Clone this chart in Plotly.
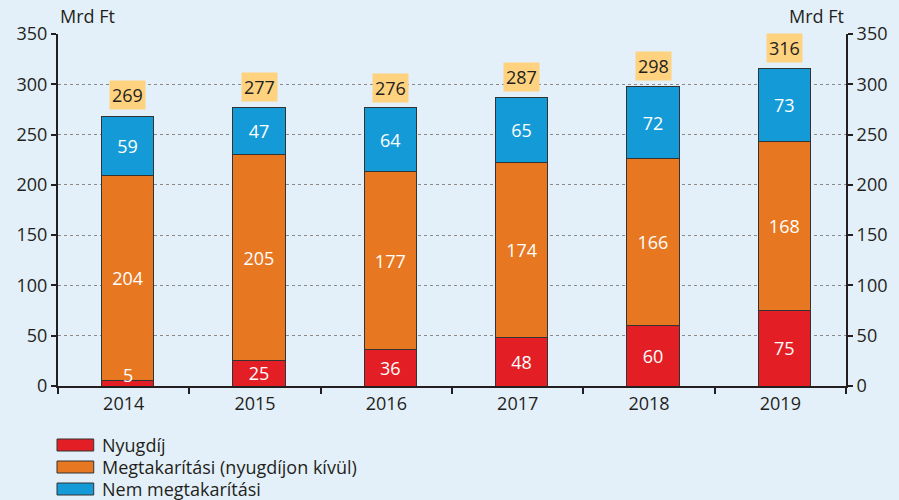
import plotly.graph_objects as go

years = ["2014", "2015", "2016", "2017", "2018", "2019"]
nyugdij = [5, 25, 36, 48, 60, 75]
megtakaritasi = [204, 205, 177, 174, 166, 168]
nem_megtakaritasi = [59, 47, 64, 65, 72, 73]
totals = [269, 277, 276, 287, 298, 316]

series_names = ["Nyugdíj", "Megtakarítási (nyugdíjon kívül)", "Nem megtakarítási"]
colors = ["#e31e24", "#e87722", "#149bd7"]
unit = "Mrd Ft"

BG = "#e3f0f9"
FONT = "Open Sans"
DARK = "#231f20"
SMALL_LIMIT = 15  # segments smaller than this get their label above the bar

fig = go.Figure()
for name, vals, col in zip(series_names, [nyugdij, megtakaritasi, nem_megtakaritasi], colors):
    fig.add_trace(go.Bar(
        x=years, y=vals, name=name,
        marker=dict(color=col, line=dict(color="#333333", width=1)),
        text=[str(v) if v >= SMALL_LIMIT else "" for v in vals],
        textposition="inside", textangle=0,
        insidetextanchor="middle", constraintext="none",
        textfont=dict(color="white", size=18, family=FONT),
        width=0.4, offset=-0.17, showlegend=False,
    ))

# labels for tiny bottom segments
for i, v in enumerate(nyugdij):
    if v < SMALL_LIMIT:
        fig.add_annotation(x=i, y=v, yanchor="bottom", xshift=4, yshift=-8,
                           text=str(v), showarrow=False,
                           font=dict(size=18, color="white", family=FONT))

# invisible trace for right axis
fig.add_trace(go.Scatter(x=years, y=totals, yaxis="y2", mode="markers",
                         marker=dict(opacity=0), showlegend=False, hoverinfo="skip"))

for i, t in enumerate(totals):
    fig.add_annotation(x=i, y=t, xshift=4, yshift=5, yanchor="bottom", text=str(t),
                       showarrow=False, bgcolor="#ffd27f", borderpad=2,
                       font=dict(size=18, color=DARK, family=FONT))

# custom legend
for i, (name, col) in enumerate(zip(series_names, colors)):
    yc = 445 + 22 * i
    fig.add_shape(type="rect", xref="paper", yref="paper",
                  x0=(57 - 58) / 794, x1=(94 - 58) / 794,
                  y0=(386 - (yc - 6)) / 352, y1=(386 - (yc + 6)) / 352,
                  fillcolor=col, line=dict(color="#333333", width=1))
    fig.add_annotation(xref="paper", yref="paper", x=(100 - 58) / 794,
                       y=(386 - yc) / 352, xanchor="left", yanchor="middle",
                       text=name, showarrow=False,
                       font=dict(size=18, color=DARK, family=FONT))

fig.add_annotation(xref="paper", yref="paper", x=0, y=1.012, xanchor="left",
                   yanchor="bottom", text=unit, showarrow=False,
                   font=dict(size=18, color=DARK, family=FONT))
fig.add_annotation(xref="paper", yref="paper", x=1, y=1.012, xanchor="right",
                   yanchor="bottom", text=unit, showarrow=False,
                   font=dict(size=18, color=DARK, family=FONT))

axis_common = dict(range=[0, 350], tickvals=[0, 50, 100, 150, 200, 250, 300, 350],
                   showline=True, linecolor=DARK, linewidth=2, ticks="outside",
                   ticklen=5, tickwidth=2, tickcolor=DARK,
                   tickfont=dict(size=18, color=DARK, family=FONT), zeroline=False)

fig.update_layout(
    width=899, height=500,
    paper_bgcolor=BG, plot_bgcolor=BG,
    margin=dict(l=58, r=47, t=34, b=114),
    barmode="stack",
    showlegend=False,
    yaxis=dict(**axis_common, showgrid=True, gridcolor="#8a8a8a", griddash="dot", gridwidth=1),
    yaxis2=dict(**axis_common, overlaying="y", side="right", showgrid=False),
    xaxis=dict(type="category", range=[-0.5, 5.5], showline=True, linecolor=DARK,
               linewidth=2, ticks="outside", tickson="boundaries", ticklen=6,
               tickwidth=2, tickcolor=DARK,
               tickfont=dict(size=18, color=DARK, family=FONT)),
)

fig.write_html("out.html", config={"displayModeBar": False})

# remove default page margin so the figure sits at the window's top-left corner
with open("out.html", encoding="utf-8") as f:
    html = f.read()
html = html.replace("<head>", "<head><style>html,body{margin:0;padding:0;overflow:hidden;background:%s}</style>" % BG, 1)
with open("out.html", "w", encoding="utf-8") as f:
    f.write(html)
